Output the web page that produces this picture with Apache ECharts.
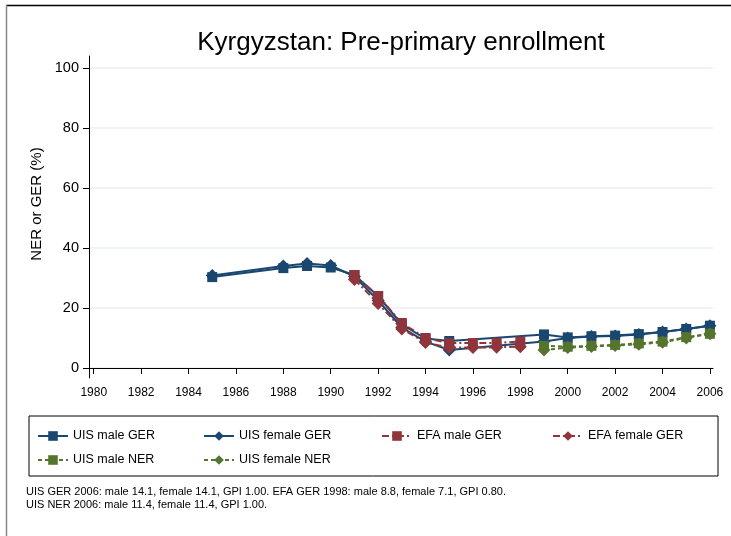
<!DOCTYPE html>
<html>
<head>
<meta charset="utf-8">
<title>Kyrgyzstan: Pre-primary enrollment</title>
<script src="https://cdn.jsdelivr.net/npm/echarts@6/dist/echarts.min.js"></script>
<style>
  html, body { margin: 0; padding: 0; background: #fff; }
  #chart { width: 731px; height: 536px; }
</style>
</head>
<body>
<div id="chart"></div>
<script>
// years (x axis)
var years = [1985, 1988, 1989, 1990, 1991, 1992, 1993, 1994, 1995, 1996, 1997, 1998,
             1999, 2000, 2001, 2002, 2003, 2004, 2005, 2006];
// UIS GER / EFA GER / UIS NER, null = no data for that year
var uisMaleGer   = [30.3, 33.3, 34.0, 33.5, 31.0, 24.0, 14.5, 9.8, 9.0, null, null, null,
                    11.2, 10.2, 10.6, 10.8, 11.3, 12.0, 13.0, 14.1];
var uisFemaleGer = [30.8, 34.0, 34.8, 34.2, 30.5, 22.5, 13.5, 8.8, 6.0, null, null, null,
                    8.8, 10.0, 10.5, 10.7, 11.2, 12.0, 13.0, 14.1];
var efaMaleGer   = [null, null, null, null, 31.0, 24.0, 15.0, 10.0, 8.3, 8.3, 8.4, 8.8,
                    null, null, null, null, null, null, null, null];
var efaFemaleGer = [null, null, null, null, 29.5, 21.5, 13.0, 8.5, 6.8, 6.8, 6.9, 7.1,
                    null, null, null, null, null, null, null, null];
var uisMaleNer   = [null, null, null, null, null, null, null, null, null, null, null, null,
                    7.4, 7.1, 7.4, 7.7, 8.2, 8.8, 10.3, 11.4];
var uisFemaleNer = [null, null, null, null, null, null, null, null, null, null, null, null,
                    6.0, 6.8, 7.2, 7.5, 7.9, 8.6, 10.0, 11.4];

var yTicks = [0, 20, 40, 60, 80, 100];
var xTicks = [1980, 1982, 1984, 1986, 1988, 1990, 1992, 1994, 1996, 1998, 2000, 2002, 2004, 2006];

var noteLines = [
  'UIS GER 2006: male 14.1, female 14.1, GPI 1.00. EFA GER 1998: male 8.8, female 7.1, GPI 0.80.',
  'UIS NER 2006: male 11.4, female 11.4, GPI 1.00.'
];

var FONT = 'Liberation Sans, Arial, Helvetica, sans-serif';
var NAVY = '#1a476f', MAROON = '#90353b', GREEN = '#55752f';

function pairs(vals) {
  var out = [];
  for (var i = 0; i < years.length; i++) {
    if (vals[i] !== null) out.push([years[i], vals[i]]);
  }
  return out;
}

function mkSeries(name, vals, color, symbol, size, dash) {
  return {
    name: name,
    type: 'line',
    data: pairs(vals),
    symbol: symbol,
    symbolSize: size,
    showSymbol: true,
    connectNulls: true,
    itemStyle: { color: color },
    lineStyle: { color: color, width: 2, type: dash },
    emphasis: { disabled: true },
    animation: false
  };
}

var chart = echarts.init(document.getElementById('chart'));

var option = {
  backgroundColor: '#ffffff',
  textStyle: { fontFamily: FONT },
  title: [{
    text: 'Kyrgyzstan: Pre-primary enrollment',
    left: 401,
    top: 30,
    textAlign: 'center',
    padding: 0,
    textStyle: { fontFamily: FONT, fontSize: 26, fontWeight: 'normal', color: '#000' }
  }, {
    text: noteLines.join('\n'),
    left: 26,
    top: 485,
    padding: 0,
    textStyle: { fontFamily: FONT, fontSize: 11, fontWeight: 'normal', color: '#000', lineHeight: 13 }
  }],
  grid: { left: 89, right: 18, top: 56, bottom: 158, outerBoundsMode: 'none', containLabel: false },
  legend: {
    left: 29,
    top: 416,
    width: 690,
    padding: [8, 8, 4, 8],
    itemGap: 0,
    itemWidth: 30,
    itemHeight: 12,
    borderColor: '#000',
    borderWidth: 1,
    textStyle: { fontFamily: FONT, fontSize: 12.5, color: '#000', lineHeight: 24 },
    data: [
      { name: 'UIS male GER', textStyle: { width: 130 } },
      { name: 'UIS female GER', textStyle: { width: 142 } },
      { name: 'EFA male GER', textStyle: { width: 135 } },
      { name: 'EFA female GER', textStyle: { width: 122 } },
      { name: 'UIS male NER', textStyle: { width: 130 } },
      { name: 'UIS female NER', textStyle: { width: 142 } }
    ]
  },
  xAxis: {
    type: 'value',
    min: 1979.8,
    max: 2006.13,
    axisLine: { show: true, lineStyle: { color: '#000', width: 1 } },
    axisTick: { show: true, length: 6, lineStyle: { color: '#000' }, customValues: xTicks },
    axisLabel: {
      customValues: xTicks, margin: 9, fontSize: 12, color: '#000', fontFamily: FONT,
      formatter: function (v) { return String(v); }
    },
    splitLine: { show: false }
  },
  yAxis: {
    type: 'value',
    min: -3.33,
    max: 104,
    name: 'NER or GER (%)',
    nameLocation: 'middle',
    nameGap: 44,
    nameTextStyle: { fontFamily: FONT, fontSize: 15, color: '#000', padding: [0, 0, 0, 26] },
    axisLine: { show: true, lineStyle: { color: '#000', width: 1 } },
    axisTick: { show: true, length: 6, lineStyle: { color: '#000' }, customValues: yTicks },
    axisLabel: { customValues: yTicks, margin: 10, fontSize: 14.5, color: '#000', fontFamily: FONT },
    splitLine: { show: true, lineStyle: { color: '#eaf2f3', width: 1.5 } }
  },
  graphic: [
    { type: 'line', shape: { x1: 6, y1: 5.5, x2: 731, y2: 5.5 }, style: { stroke: '#000', lineWidth: 1.5 } },
    { type: 'line', shape: { x1: 6.5, y1: 5, x2: 6.5, y2: 536 }, style: { stroke: '#888', lineWidth: 1.5 } }
  ],
  series: [
    mkSeries('UIS male GER', uisMaleGer, NAVY, 'rect', 10, 'solid'),
    mkSeries('UIS female GER', uisFemaleGer, NAVY, 'diamond', 13, 'solid'),
    mkSeries('EFA male GER', efaMaleGer, MAROON, 'rect', 10, [7, 3, 2, 3]),
    mkSeries('EFA female GER', efaFemaleGer, MAROON, 'diamond', 13, [7, 3, 2, 3]),
    mkSeries('UIS male NER', uisMaleNer, GREEN, 'rect', 10, [4, 3]),
    mkSeries('UIS female NER', uisFemaleNer, GREEN, 'diamond', 13, [4, 3])
  ]
};

chart.setOption(option);
</script>
</body>
</html>
